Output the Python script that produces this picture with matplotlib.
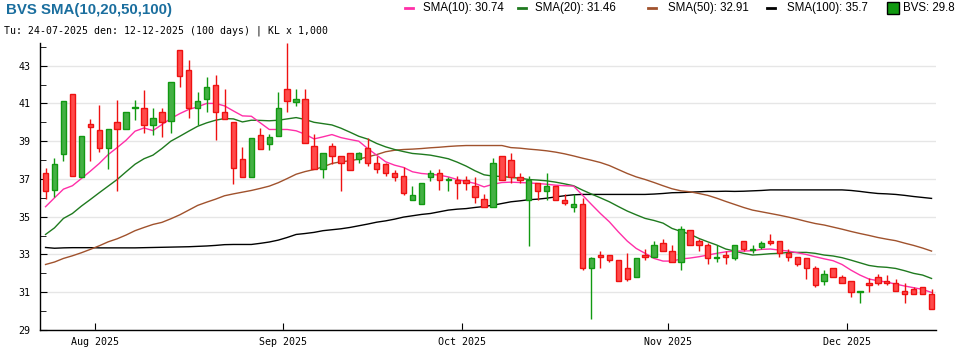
import numpy as np
import matplotlib
matplotlib.use("Agg")
import matplotlib.pyplot as plt
from matplotlib.lines import Line2D

# Gia theo phien (doc tu bieu do)
opens = [37.34, 36.44, 38.33, 41.49, 37.08, 39.90, 39.58, 38.66, 39.99, 39.67,
         40.77, 40.78, 39.88, 40.57, 40.09, 43.85, 42.79, 40.76, 41.26, 41.95,
         40.57, 39.99, 38.08, 37.10, 39.35, 38.86, 39.25, 41.79, 41.05, 41.26,
         38.77, 37.55, 38.77, 38.24, 38.35, 38.08, 38.66, 37.87, 37.77, 37.34,
         37.18, 35.86, 35.67, 37.08, 37.34, 36.97, 36.97, 36.97, 36.65, 35.95,
         35.49, 38.19, 37.98, 37.08, 35.86, 36.76, 36.37, 36.65, 35.86, 35.54,
         35.65, 32.26, 32.95, 32.95, 32.69, 32.26, 31.79, 32.95, 32.84, 33.59,
         33.16, 32.58, 34.27, 33.69, 33.48, 32.83, 32.95, 32.79, 33.74, 33.25,
         33.37, 33.69, 33.69, 33.06, 32.84, 32.79, 32.26, 31.57, 32.26, 31.79,
         31.57, 31.03, 31.47, 31.79, 31.57, 31.47, 31.05, 31.15, 31.26, 30.89]
highs = [37.59, 38.12, 41.15, 41.49, 39.25, 40.16, 40.90, 39.67, 41.17, 40.57,
         41.17, 41.70, 40.78, 40.78, 42.16, 43.85, 43.29, 41.59, 42.39, 42.49,
         41.79, 39.99, 38.68, 39.19, 39.71, 39.37, 41.61, 44.20, 41.79, 41.79,
         39.37, 38.35, 38.88, 38.24, 38.35, 38.45, 39.19, 38.24, 37.87, 37.45,
         37.64, 36.65, 36.76, 37.45, 37.55, 37.11, 37.18, 37.18, 37.08, 36.18,
         38.12, 38.19, 38.35, 37.34, 37.18, 36.76, 37.29, 36.65, 36.18, 36.18,
         35.97, 32.88, 33.16, 32.95, 32.69, 33.06, 32.79, 33.27, 33.69, 33.80,
         33.48, 34.50, 34.27, 33.80, 33.59, 33.48, 33.16, 33.48, 33.74, 33.48,
         33.74, 34.08, 33.69, 33.27, 32.84, 32.79, 32.37, 32.16, 32.26, 31.89,
         31.57, 31.05, 31.73, 31.95, 31.89, 31.68, 31.47, 31.26, 31.26, 31.15]
lows = [35.93, 36.05, 37.96, 37.18, 37.08, 37.96, 38.44, 37.55, 36.37, 39.67,
        40.11, 39.44, 39.33, 39.23, 39.44, 41.86, 40.23, 39.86, 40.55, 39.07,
        40.15, 36.72, 37.10, 37.10, 38.58, 38.54, 39.25, 40.57, 40.87, 38.88,
        37.54, 37.06, 37.77, 36.37, 37.45, 37.87, 37.66, 37.34, 37.18, 36.87,
        36.16, 35.86, 35.67, 36.87, 36.44, 36.37, 35.95, 36.44, 35.75, 35.54,
        35.49, 36.97, 36.81, 36.76, 33.46, 35.86, 35.86, 35.86, 35.60, 35.26,
        32.17, 29.56, 32.26, 32.58, 31.57, 31.57, 31.79, 32.69, 32.84, 33.16,
        32.58, 32.16, 33.48, 33.16, 32.47, 32.58, 32.47, 32.69, 33.16, 33.06,
        33.27, 33.48, 32.84, 32.67, 32.37, 31.68, 31.26, 31.36, 31.79, 31.47,
        30.76, 30.45, 30.99, 31.36, 31.36, 31.05, 30.45, 30.89, 30.89, 30.09]
closes = [36.37, 37.77, 41.15, 37.18, 39.25, 39.76, 38.66, 39.67, 39.67, 40.57,
          40.79, 39.88, 40.25, 39.99, 42.16, 42.47, 40.76, 41.15, 41.89, 40.57,
          40.15, 37.57, 37.10, 39.19, 38.58, 39.23, 40.78, 41.15, 41.26, 38.88,
          37.54, 38.35, 38.24, 37.87, 37.45, 38.35, 37.87, 37.55, 37.34, 37.08,
          36.27, 36.16, 36.76, 37.34, 36.97, 36.99, 36.76, 36.76, 36.07, 35.54,
          37.87, 36.97, 37.08, 36.97, 36.97, 36.37, 36.65, 35.86, 35.75, 35.65,
          32.26, 32.79, 32.84, 32.69, 31.57, 31.68, 32.79, 32.84, 33.48, 33.16,
          32.58, 34.36, 33.48, 33.48, 32.79, 32.84, 32.84, 33.48, 33.27, 33.27,
          33.59, 33.59, 33.06, 32.84, 32.47, 32.26, 31.36, 31.95, 31.79, 31.47,
          30.99, 31.05, 31.36, 31.47, 31.47, 31.05, 30.89, 30.89, 30.89, 30.09]

sma10 = [35.53, 36.00, 36.46, 36.64, 37.02, 37.41, 37.82, 38.29, 38.66, 39.05,
         39.53, 39.70, 39.56, 39.88, 40.20, 40.46, 40.68, 40.82, 41.00, 41.00,
         40.87, 40.60, 40.34, 40.32, 39.97, 39.62, 39.62, 39.62, 39.55, 39.37,
         39.12, 39.23, 39.35, 39.19, 39.09, 39.00, 38.61, 38.26, 37.91, 37.73,
         37.61, 37.38, 37.29, 37.25, 37.20, 37.11, 36.97, 36.87, 36.76, 36.58,
         36.72, 36.81, 36.83, 36.81, 36.79, 36.76, 36.72, 36.67, 36.64, 36.62,
         36.14, 35.65, 35.17, 34.73, 34.20, 33.71, 33.32, 33.06, 32.79, 32.65,
         32.65, 32.76, 32.81, 32.88, 32.97, 33.06, 33.14, 33.18, 33.18, 33.20,
         33.27, 33.29, 33.23, 33.18, 33.09, 33.00, 32.88, 32.77, 32.67, 32.47,
         32.17, 31.91, 31.70, 31.61, 31.54, 31.43, 31.33, 31.24, 31.15, 30.99]
sma20 = [34.06, 34.41, 34.91, 35.17, 35.56, 35.91, 36.27, 36.62, 36.97, 37.38,
         37.78, 38.07, 38.26, 38.61, 39.00, 39.26, 39.53, 39.79, 39.97, 40.11,
         40.20, 40.18, 40.02, 40.11, 40.10, 40.08, 40.11, 40.18, 40.25, 40.15,
         40.00, 39.93, 39.86, 39.69, 39.48, 39.26, 39.11, 38.88, 38.70, 38.56,
         38.45, 38.35, 38.31, 38.26, 38.17, 38.07, 37.89, 37.68, 37.43, 37.22,
         37.15, 37.13, 37.08, 37.04, 36.97, 36.94, 36.90, 36.83, 36.74, 36.64,
         36.41, 36.20, 36.00, 35.79, 35.54, 35.30, 35.10, 34.91, 34.80, 34.66,
         34.38, 34.22, 34.08, 33.85, 33.67, 33.50, 33.29, 33.18, 33.06, 32.97,
         33.00, 33.04, 33.06, 33.11, 33.11, 33.11, 33.06, 32.97, 32.92, 32.83,
         32.70, 32.56, 32.42, 32.35, 32.32, 32.26, 32.14, 32.00, 31.91, 31.73]
sma50 = [32.47, 32.60, 32.79, 32.93, 33.09, 33.27, 33.46, 33.67, 33.83, 34.03,
         34.26, 34.43, 34.59, 34.70, 34.89, 35.10, 35.35, 35.60, 35.77, 35.93,
         36.11, 36.21, 36.30, 36.39, 36.50, 36.62, 36.80, 37.02, 37.25, 37.39,
         37.50, 37.64, 37.82, 37.91, 37.96, 38.05, 38.17, 38.29, 38.44, 38.52,
         38.56, 38.58, 38.61, 38.65, 38.68, 38.72, 38.75, 38.77, 38.77, 38.77,
         38.77, 38.77, 38.66, 38.63, 38.58, 38.54, 38.49, 38.42, 38.33, 38.22,
         38.10, 37.99, 37.87, 37.71, 37.50, 37.29, 37.11, 36.97, 36.81, 36.64,
         36.48, 36.37, 36.32, 36.23, 36.13, 35.98, 35.81, 35.65, 35.49, 35.35,
         35.26, 35.17, 35.08, 34.98, 34.87, 34.75, 34.64, 34.56, 34.45, 34.34,
         34.22, 34.11, 34.01, 33.90, 33.81, 33.73, 33.60, 33.48, 33.34, 33.18]
sma100 = [33.37, 33.33, 33.35, 33.36, 33.36, 33.36, 33.35, 33.35, 33.35, 33.35,
          33.35, 33.36, 33.37, 33.38, 33.39, 33.40, 33.41, 33.43, 33.45, 33.48,
          33.52, 33.53, 33.53, 33.53, 33.59, 33.66, 33.76, 33.90, 34.06, 34.11,
          34.17, 34.26, 34.31, 34.36, 34.43, 34.52, 34.61, 34.71, 34.78, 34.87,
          34.98, 35.05, 35.12, 35.17, 35.26, 35.35, 35.40, 35.43, 35.49, 35.54,
          35.61, 35.70, 35.79, 35.84, 35.90, 35.93, 35.98, 36.05, 36.11, 36.16,
          36.18, 36.18, 36.18, 36.18, 36.18, 36.18, 36.18, 36.18, 36.20, 36.23,
          36.27, 36.28, 36.30, 36.32, 36.34, 36.34, 36.35, 36.34, 36.35, 36.37,
          36.39, 36.42, 36.42, 36.42, 36.42, 36.42, 36.42, 36.42, 36.42, 36.42,
          36.39, 36.34, 36.28, 36.23, 36.21, 36.18, 36.13, 36.07, 36.02, 35.97]

month_idx = [6, 27, 47, 70, 90]
month_labels = ["Aug 2025", "Sep 2025", "Oct 2025", "Nov 2025", "Dec 2025"]

legend_labels = ["SMA(10): 30.74", "SMA(20): 31.46", "SMA(50): 32.91", "SMA(100): 35.7"]
sma_colors = ["#ff2fa8", "#1f7a1f", "#a0522d", "#000000"]

mono = "DejaVu Sans Mono"
sans = "Liberation Sans"

fig = plt.figure(figsize=(9.7, 3.5), dpi=100)
ax = fig.add_axes([40 / 970, 20 / 350, 896 / 970, 287 / 350])

o = np.array(opens)
c = np.array(closes)
x = np.arange(len(o))
up = c >= o

# Duong SMA
for s, col in zip([sma100, sma50, sma20, sma10], sma_colors[::-1]):
    ax.plot(x, s, color=col, lw=1.0, zorder=2)

# Nen
for i in range(len(o)):
    ec = "#119911" if up[i] else "#ee1111"
    fc = "#44b044" if up[i] else "#ff4a4a"
    ax.vlines(x[i], lows[i], highs[i], color=ec, lw=1.0, zorder=3)
    lo = min(o[i], c[i])
    h = max(abs(c[i] - o[i]), 0.03)
    ax.bar(x[i], h, bottom=lo, width=0.6, color=fc, edgecolor=ec, lw=1.0, zorder=4)

ax.set_xlim(-0.62, 99.5)
ax.set_ylim(29, 44.2)

ax.set_yticks(np.arange(29, 44, 2))
ax.set_yticks(np.arange(30, 45, 2), minor=True)
ax.yaxis.grid(True, which="major", color="#e6e6e6", lw=1.0)
ax.set_axisbelow(True)
ax.set_xticks([m - 0.5 for m in month_idx])
ax.set_xticklabels(month_labels)
ax.tick_params(axis="both", which="both", direction="in", color="black", labelsize=7.2)
ax.tick_params(axis="y", which="major", length=5, pad=7)
ax.tick_params(axis="y", which="minor", length=4)
ax.tick_params(axis="x", length=5, pad=5)
for lab in ax.get_xticklabels() + ax.get_yticklabels():
    lab.set_family(mono)

for side in ["top", "right"]:
    ax.spines[side].set_visible(False)
for side in ["left", "bottom"]:
    ax.spines[side].set_linewidth(1.0)

# Tieu de
fig.text(6 / 970, 1 - 10 / 350, "BVS SMA(10,20,50,100)", family=sans, weight="bold",
         fontsize=10.8, color="#1a6e9e", va="center", ha="left")
fig.text(4 / 970, 1 - 31 / 350, "Tu: 24-07-2025 den: 12-12-2025 (100 days) | KL x 1,000",
         family=mono, fontsize=7.1, color="black", va="center", ha="left")

# Chu giai
ly = 1 - 8 / 350
dash_x = [405, 518, 648, 767]
text_x = [423, 535, 668, 787]
for dx, tx, lab, col in zip(dash_x, text_x, legend_labels, sma_colors):
    fig.add_artist(Line2D([dx / 970, (dx + 8) / 970], [ly, ly], color=col, lw=2,
                          transform=fig.transFigure))
    fig.text(tx / 970, ly, lab, family=sans, fontsize=8.3, va="center", ha="left")
fig.add_artist(Line2D([893 / 970], [ly], marker="s", markersize=8, markerfacecolor="#119911",
                      markeredgecolor="black", markeredgewidth=1, transform=fig.transFigure))
fig.text(903 / 970, ly, "BVS: 29.8", family=sans, fontsize=8.3, va="center", ha="left")

fig.savefig("out.png", dpi=100)
